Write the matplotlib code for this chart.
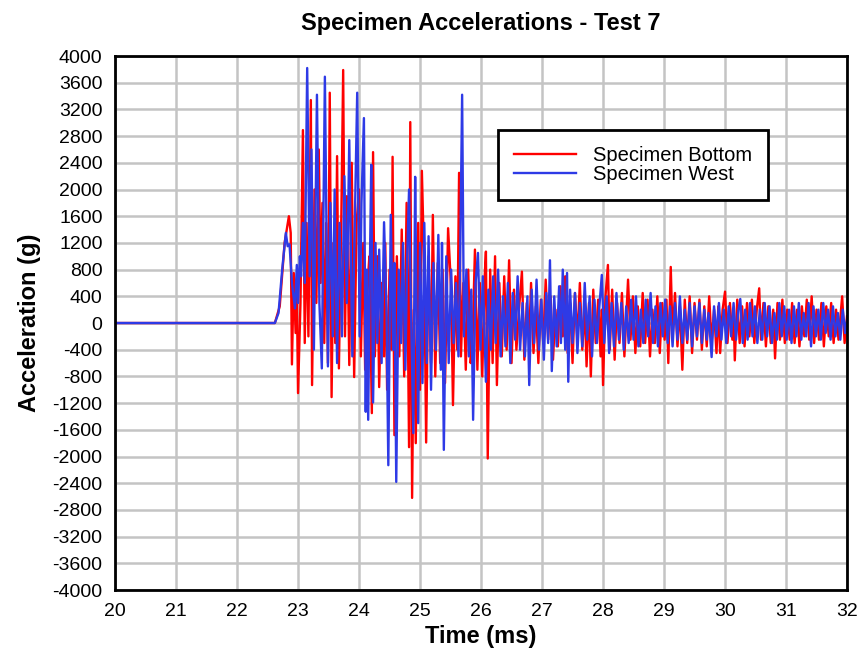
import numpy as np
import matplotlib.pyplot as plt

plt.rcParams['font.family'] = ['Liberation Sans', 'DejaVu Sans']
plt.rcParams['axes.unicode_minus'] = False

# (time ms, acceleration g) turning points
bottom_pts = [
    (20.00, 0), (22.62, 0), (22.70, 250), (22.78, 1200), (22.85, 1600), (22.88, 1350),
    (22.90, -620), (22.93, 750), (22.96, -150), (22.98, 500), (23.00, -1050), (23.04, 300),
    (23.08, 2890), (23.11, -300), (23.14, 1500), (23.17, -200), (23.21, 3340), (23.23, -930),
    (23.27, 2000), (23.30, 300), (23.34, 2600), (23.37, 600), (23.40, 1800), (23.43, -300),
    (23.46, 1500), (23.49, -600), (23.52, 3450), (23.55, -1110), (23.58, 1200), (23.61, -300),
    (23.64, 2500), (23.67, -680), (23.71, 1600), (23.74, 3790), (23.77, -200), (23.80, 1900),
    (23.84, -630), (23.88, 2400), (23.92, -810), (23.96, 1500), (24.00, 2000), (24.03, -500),
    (24.07, 1200), (24.10, -700), (24.14, 600), (24.17, 1000), (24.21, -1350), (24.23, 2560),
    (24.26, -500), (24.30, 1000), (24.33, -960), (24.37, 600), (24.41, -500), (24.43, 1200),
    (24.46, -1000), (24.50, 800), (24.53, -400), (24.55, 2490), (24.58, -1680), (24.62, 1000),
    (24.66, -500), (24.70, 1400), (24.74, -800), (24.78, 1800), (24.82, -1860), (24.84, 3010),
    (24.87, -2620), (24.90, 200), (24.93, -1800), (24.97, 1500), (25.00, -1000), (25.03, 2280),
    (25.07, 800), (25.10, -1790), (25.14, 1000), (25.18, -600), (25.21, 1620), (25.25, -800),
    (25.29, 900), (25.33, -600), (25.37, 800), (25.41, -900), (25.46, 1420), (25.51, 500),
    (25.54, -1230), (25.58, 700), (25.61, -400), (25.64, 2250), (25.67, -500), (25.71, 600),
    (25.75, -700), (25.79, 800), (25.83, -600), (25.86, -300), (25.90, 1100), (25.94, -700),
    (25.98, 600), (26.02, -800), (26.06, 700), (26.08, 1070), (26.11, -2030), (26.15, 800),
    (26.19, -600), (26.23, 1000), (26.26, -930), (26.30, 600), (26.34, -500), (26.38, 700),
    (26.42, -400), (26.46, 940), (26.50, -600), (26.54, 500), (26.58, -400), (26.63, 300),
    (26.67, 770), (26.71, -550), (26.75, 300), (26.79, -250), (26.82, 600), (26.86, -450),
    (26.90, 250), (26.94, -600), (26.98, 350), (27.02, -300), (27.06, 650), (27.10, -250),
    (27.14, 400), (27.18, -550), (27.22, 200), (27.26, -350), (27.30, 550), (27.34, -200),
    (27.38, 700), (27.42, -450), (27.46, 300), (27.50, -600), (27.54, 450), (27.58, -250),
    (27.62, 600), (27.66, -400), (27.70, 250), (27.73, -650), (27.77, 300), (27.80, -800),
    (27.84, 500), (27.88, -300), (27.92, 350), (27.96, -500), (27.98, 200), (28.00, -930),
    (28.04, 400), (28.08, 870), (28.11, -400), (28.15, 500), (28.19, -550), (28.23, 300),
    (28.27, -300), (28.31, 450), (28.35, -500), (28.41, 650), (28.45, -250), (28.49, 400),
    (28.53, -450), (28.57, 250), (28.61, -350), (28.65, 450), (28.69, -300), (28.73, 350),
    (28.77, -500), (28.81, 200), (28.85, -300), (28.89, 400), (28.93, -450), (28.97, 300),
    (29.01, -250), (29.04, 350), (29.07, -600), (29.11, 840), (29.14, -200), (29.18, 450),
    (29.22, -350), (29.26, 250), (29.30, -700), (29.34, 350), (29.38, -300), (29.42, 400),
    (29.46, -450), (29.50, 300), (29.54, -250), (29.58, 350), (29.62, -400), (29.66, 250),
    (29.70, -350), (29.74, 400), (29.78, -300), (29.82, 200), (29.86, -450), (29.89, 250),
    (29.92, -450), (29.96, 200), (30.00, 470), (30.04, -300), (30.08, 300), (30.12, -250),
    (30.14, 150), (30.16, -560), (30.20, 350), (30.24, -300), (30.28, 250), (30.32, -350),
    (30.36, 300), (30.40, -200), (30.44, 350), (30.48, -300), (30.52, 200), (30.56, 520),
    (30.59, -250), (30.63, 300), (30.67, -350), (30.71, 250), (30.75, -300), (30.79, 200),
    (30.82, -530), (30.86, 300), (30.90, -250), (30.94, 350), (30.98, -300), (31.02, 200),
    (31.06, -250), (31.10, 300), (31.14, -300), (31.18, 200), (31.22, -350), (31.26, 250),
    (31.30, -200), (31.34, 350), (31.38, -250), (31.42, 400), (31.46, -300), (31.50, 200),
    (31.54, -250), (31.58, 300), (31.62, -350), (31.66, 250), (31.70, -200), (31.74, 300),
    (31.78, -300), (31.82, 200), (31.86, -250), (31.92, 400), (31.96, -300), (32.00, 100),
]

west_pts = [
    (20.00, 0), (22.62, 0), (22.68, 150), (22.74, 800), (22.80, 1350), (22.83, 1150),
    (22.86, 1180), (22.90, 600), (22.95, 220), (22.98, 870), (23.00, 300), (23.03, 1000),
    (23.05, 700), (23.08, 1500), (23.11, 600), (23.15, 3820), (23.19, 700), (23.22, 2600),
    (23.26, -400), (23.31, 3420), (23.35, 300), (23.39, -680), (23.44, 3690), (23.49, -650),
    (23.53, 1800), (23.57, -200), (23.60, 2000), (23.64, -600), (23.68, 1500), (23.72, -200),
    (23.76, 2200), (23.80, 300), (23.84, 2740), (23.89, -500), (23.93, 1500), (23.97, 3450),
    (24.01, -200), (24.04, 1800), (24.08, 3070), (24.11, -1330), (24.13, 800), (24.15, -1450),
    (24.18, 1000), (24.20, 2370), (24.23, -1190), (24.27, 1200), (24.30, -300), (24.33, 1100),
    (24.37, -600), (24.41, 1510), (24.45, 200), (24.48, -2130), (24.52, 1620), (24.56, -400),
    (24.58, 900), (24.61, -2380), (24.65, 800), (24.69, -300), (24.72, 1200), (24.76, -700),
    (24.79, 1000), (24.82, 2000), (24.85, 300), (24.89, -1650), (24.92, 2190), (24.94, 400),
    (24.97, -1500), (25.00, 1200), (25.04, -900), (25.07, 1500), (25.11, -600), (25.14, 1300),
    (25.18, -1000), (25.22, 900), (25.26, -400), (25.30, 1320), (25.34, -700), (25.36, 1200),
    (25.39, -1900), (25.43, 1000), (25.47, -600), (25.51, 800), (25.55, -300), (25.59, 600),
    (25.63, -500), (25.66, 1100), (25.69, 3420), (25.72, -200), (25.76, 800), (25.80, -500),
    (25.84, 500), (25.87, -1450), (25.91, 600), (25.95, 1050), (25.99, -400), (26.03, 700),
    (26.08, -880), (26.12, 500), (26.16, -400), (26.20, 700), (26.24, -300), (26.28, 800),
    (26.32, -500), (26.36, 400), (26.40, -350), (26.44, 600), (26.48, -600), (26.52, 450),
    (26.56, -250), (26.60, 700), (26.64, -400), (26.68, 300), (26.72, -500), (26.76, 400),
    (26.79, -930), (26.83, 500), (26.87, -300), (26.91, 650), (26.95, -400), (26.99, 350),
    (27.03, -550), (27.07, 450), (27.10, -300), (27.13, 940), (27.16, -720), (27.20, 400),
    (27.24, -350), (27.28, 550), (27.31, -300), (27.34, 800), (27.38, -400), (27.41, 750),
    (27.43, -880), (27.46, 500), (27.50, -300), (27.54, 450), (27.58, -450), (27.62, 300),
    (27.66, -350), (27.70, 600), (27.74, -250), (27.78, 400), (27.82, -500), (27.86, 350),
    (27.90, -300), (27.94, 250), (27.98, 720), (28.02, -300), (28.06, 400), (28.10, -450),
    (28.14, 300), (28.18, -350), (28.22, 450), (28.26, -250), (28.30, 300), (28.34, -400),
    (28.38, 250), (28.42, -300), (28.46, 350), (28.50, -250), (28.54, 400), (28.58, -350),
    (28.62, 200), (28.66, -300), (28.70, 350), (28.74, -200), (28.78, 450), (28.82, -300),
    (28.86, 250), (28.90, -350), (28.94, 300), (28.98, -200), (29.02, 350), (29.06, -300),
    (29.10, 250), (29.14, -350), (29.18, 300), (29.22, -250), (29.26, 400), (29.30, -300),
    (29.34, 200), (29.38, -250), (29.42, 300), (29.46, -350), (29.50, 250), (29.54, -200),
    (29.58, 300), (29.62, -300), (29.66, 200), (29.70, -250), (29.73, 150), (29.78, -510),
    (29.82, 250), (29.86, -200), (29.90, 300), (29.94, -250), (29.98, 200), (30.02, -300),
    (30.06, 250), (30.10, -200), (30.14, 300), (30.18, -250), (30.22, 200), (30.25, 360),
    (30.29, -300), (30.33, 200), (30.37, -250), (30.41, 300), (30.45, -200), (30.49, 250),
    (30.53, -300), (30.57, 200), (30.61, -250), (30.65, 300), (30.69, -200), (30.73, 250),
    (30.77, -300), (30.81, 150), (30.85, -250), (30.89, 300), (30.93, -200), (30.97, 250),
    (31.01, -250), (31.05, 200), (31.09, -300), (31.13, 250), (31.17, -200), (31.21, 300),
    (31.25, -250), (31.29, 150), (31.33, -200), (31.37, 300), (31.41, -350), (31.45, 250),
    (31.49, -200), (31.53, 200), (31.57, -250), (31.61, 300), (31.65, -150), (31.69, 200),
    (31.73, -250), (31.77, 250), (31.81, -200), (31.85, 150), (31.89, -250), (31.93, 200),
    (31.97, -150), (32.00, 50),
]

series_names = ["Specimen Bottom", "Specimen West"]
series_colors = ["#ff0000", "#2e3ae6"]
x_ticks = list(range(20, 33))
y_ticks = list(range(-4000, 4001, 400))

fig = plt.figure(figsize=(8.63, 6.55), dpi=100)
ax = fig.add_axes([0.1333, 0.0992, 0.8482, 0.8153])

for pts, name, col in zip([bottom_pts, west_pts], series_names, series_colors):
    t = np.array([p[0] for p in pts])
    g = np.array([p[1] for p in pts])
    ax.plot(t, g, color=col, lw=1.7, label=name)

ax.set_xlim(20, 32)
ax.set_ylim(-4000, 4000)
ax.set_xticks(x_ticks)
ax.set_yticks(y_ticks)
ax.tick_params(length=0, labelsize=14)
ax.tick_params(axis="x", pad=9)
ax.tick_params(axis="y", pad=9)
ax.grid(True, color="#c4c4c4", lw=1.8)
ax.set_axisbelow(True)
for s in ax.spines.values():
    s.set_linewidth(2)
    s.set_color("black")

ax.set_title("Specimen Accelerations - Test 7", fontsize=17, fontweight="bold", pad=19)
ax.set_xlabel("Time (ms)", fontsize=17, fontweight="bold", labelpad=4)
ax.set_ylabel("Acceleration (g)", fontsize=17, fontweight="bold", labelpad=8)

leg = ax.legend(loc="upper left", bbox_to_anchor=(0.523, 0.861), fontsize=14.5,
                fancybox=False, framealpha=1, edgecolor="black",
                handlelength=3.1, borderpad=0.8, labelspacing=0.0, borderaxespad=0)
leg.get_frame().set_linewidth(2)

fig.savefig("out.png", dpi=100)
